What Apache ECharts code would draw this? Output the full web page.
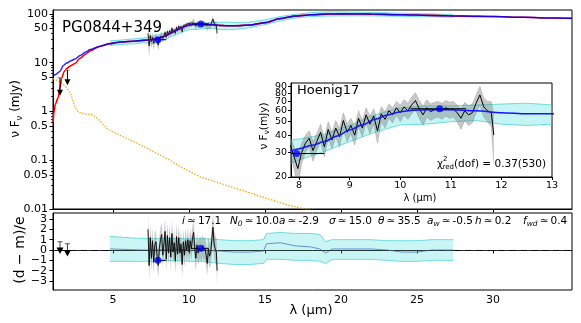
<!DOCTYPE html>
<html><head><meta charset="utf-8">
<script src="https://cdn.jsdelivr.net/npm/echarts@6/dist/echarts.min.js"></script>
<style>html,body{margin:0;padding:0;background:#fff}#c{width:581px;height:323px}</style>
</head><body><div id="c"></div>
<script>
// ---------------- DATA ----------------
const xTicks = [5, 10, 15, 20, 25, 30];
const yMainLabels = [0.01, 0.05, 0.1, 0.5, 1, 5, 10, 50, 100];
const yMainMinor = [0.02,0.03,0.04,0.06,0.07,0.08,0.09,0.2,0.3,0.4,0.6,0.7,0.8,0.9,2,3,4,6,7,8,9,20,30,40,60,70,80,90];
const yResTicks = [-3, -2, -1, 0, 1, 2, 3];
const yResLabelsA = [-3, -1, 1, 3];
const yResLabelsB = [-2, 0, 2];
const insetXTicks = [8, 9, 10, 11, 12, 13];
const insetYTicks = [20, 30, 40, 50, 60, 70, 80, 90];
const insetYLabelsA = [20, 40, 60, 80];
const insetYLabelsB = [30, 50, 70, 90];

// total model (blue)
const lamModel = [1.05,1.25,1.5,1.73,1.95,2.2,2.5,2.83,3.2,3.5,4.1,4.8,5.5,6.5,7.5,7.84,8.0,8.25,8.5,8.75,9.0,9.25,9.5,9.75,10.0,10.25,10.5,11.0,11.5,12.0,12.5,13.0,14.0,15.0,16.0,17.0,18.0,19.0,20.0,22.0,24.0,26.0,28.0,30.0,32.0,34.0,35.2];
const blueVal  = [5.3,5.8,6.6,8.7,9.8,10.8,11.9,14.0,16.5,18.5,21.5,24.5,26.5,27.8,29.5,31.0,32.0,33.8,36.0,39.5,43.5,47.5,52.0,56.0,59.0,60.5,61.0,61.0,60.0,58.0,57.0,57.0,59.0,66.0,80.0,90.0,96.0,99.0,100.0,99.0,96.0,93.0,90.0,88.0,85.0,82.0,81.0];
// red component (start, then follows the total model)
const redLam = [1.05,1.12,1.2,1.4,1.5,1.62,1.78,1.95,2.2,2.5,2.83,3.2,3.5,4.1];
const redVal = [0.6,1.0,1.4,1.95,3.0,4.8,6.5,7.6,8.6,9.6,12.3,15.0,17.4,21.5];
// orange dotted component
const orLam = [1.05,1.2,1.5,1.8,2.0,2.2,2.4,2.6,2.9,3.3,3.7,4.1,4.6,5.0,5.5,6.5,7.5,8.5,9.5,10.7,12.0,13.5,15.0,16.5,18.0];
const orVal = [4.7,4.5,4.1,3.4,2.9,2.4,1.5,1.05,0.92,0.88,0.85,0.66,0.45,0.38,0.32,0.23,0.16,0.11,0.072,0.046,0.034,0.024,0.017,0.012,0.0095];
// model uncertainty band (cyan)
const bandLam = [4.8,5.5,6.0,6.5,7.0,7.5,7.84,8.0,8.5,9.0,9.5,10.0,10.5,11.0,11.5,12.0,12.5,13.0,14.0,15.0,16.0,17.0,18.0,19.0,20.0,22.0,24.0,26.0,27.4];
const bandLo  = [22.5,23.5,24.0,24.5,25.5,25.0,25.0,26.5,30.5,36.0,42.0,47.5,48.0,50.0,51.0,48.0,47.0,48.0,52.0,60.0,72.0,82.0,88.0,90.0,91.0,91.0,89.0,87.0,85.0];
const bandHi  = [28.0,29.0,30.0,31.0,32.0,34.0,37.0,37.5,40.5,47.0,56.0,63.0,65.0,65.0,66.0,67.0,68.0,66.0,68.0,76.0,88.0,98.0,106.0,110.0,110.0,107.0,103.0,100.0,96.0];
// spectrum
const lamSpec = [7.300,7.375,7.450,7.525,7.600,7.675,7.750,7.825,7.900,7.975,
 8.050,8.125,8.200,8.275,8.350,8.425,8.500,8.575,8.650,8.725,
 8.800,8.875,8.950,9.025,9.100,9.175,9.250,9.325,9.400,9.475,
 9.550,9.625,9.700,9.775,9.850,9.925,10.000,10.075,10.150,10.225,
 10.300,10.375,10.450,10.525,10.600,10.675,10.750,10.825,10.900,10.975,
 11.050,11.125,11.200,11.275,11.350,11.425,11.500,11.575,11.650,11.725,
 11.800,11.850];
const specVal = [40,22,36,27,33,25,31,34,28,23,
 30,35,38,31,36,42,33,44,37,45,
 39,51,42,47,40,53,45,56,48,55,
 43,57,52,60,56,63,58,64,60,66,
 71,62,56,63,59,61,62,60,63,61,
 62,58,53,60,56,58,68,78,64,60,
 58,40];
const specErr = [12,9,9,7,8,7,6,5,5,6,
 5,5,5,5,5,6,5,6,5,6,
 6,7,6,6,6,7,6,7,7,7,
 8,7,7,7,7,7,8,8,8,9,
 10,9,9,9,8,8,8,8,8,8,
 8,8,9,9,9,9,10,12,10,10,
 12,15];
// residuals
const resVal = [2.0,-1.5,1.2,-0.8,0.9,-1.2,0.5,0.8,-0.6,-1.5,
 0.2,1.0,1.5,-0.5,0.6,1.8,-0.9,1.4,-0.3,1.2,
 -0.7,1.6,-0.2,0.7,-1.1,1.3,-0.4,1.2,-0.3,0.6,
 -1.4,0.8,-0.5,0.9,-0.1,1.0,-0.2,0.9,0.1,1.1,
 1.7,0.2,-0.8,0.5,-0.3,0.1,0.2,-0.1,0.4,0.0,
 0.2,-0.5,-1.3,0.1,-0.6,-0.3,1.0,2.2,0.6,0.1,
 -0.2,-2.0];
const resErr = [1.6,1.4,1.3,1.3,1.2,1.2,1.2,1.1,1.1,1.2,
 1.1,1.2,1.2,1.1,1.2,1.3,1.1,1.3,1.1,1.3,
 1.2,1.3,1.2,1.2,1.2,1.3,1.2,1.3,1.2,1.3,
 1.3,1.2,1.2,1.2,1.1,1.2,1.1,1.2,1.1,1.2,
 1.3,1.2,1.2,1.2,1.1,1.1,1.1,1.1,1.1,1.1,
 1.1,1.1,1.2,1.2,1.2,1.2,1.3,1.5,1.3,1.3,
 1.4,1.6];
const resBandLam = [4.8,6,7,8,9,10,11,12,13,14,14.9,15.1,16,17,18,18.6,19,19.4,20,21,22,23,24,25,26,27.4];
const resMid = [0.1,0.05,0.0,0.0,0.1,0.0,0.0,-0.1,-0.2,-0.2,-0.1,0.6,0.7,0.4,0.3,0.1,-0.3,0.1,0.1,0.1,0.1,0.0,-0.2,-0.2,0.0,0.0];
const resLo = [-1.1,-1.1,-1.1,-1.1,-1.0,-1.1,-1.1,-1.3,-1.4,-1.4,-1.3,-0.9,-0.9,-1.0,-1.0,-1.1,-1.3,-0.9,-0.9,-0.9,-0.9,-1.0,-1.1,-1.1,-1.0,-1.0];
const resHi = [1.3,1.2,1.1,1.1,1.1,1.1,1.1,1.0,0.9,0.9,1.0,1.6,1.7,1.6,1.6,1.5,0.8,1.0,1.0,1.0,1.0,0.9,0.9,0.9,1.0,1.0];
// photometry
const dotLam = [7.95, 10.78];
const dotVal = [29.5, 62];
const dotRes = [-1.0, 0.16];
const barLo = [7.8, 10.2];
const barHi = [8.5, 11.3];
const ulLam = [1.51, 2.0];
const ulTop = [4.9, 7.0];
const ulBot = [2.2, 3.6];
const ulRes = [-0.05, -0.3];
const ulResTop = [0.8, 0.6];

// ---------------- CHART ----------------
const FONT = 'DejaVu Sans';
const chart = echarts.init(document.getElementById('c'), null, {renderer: 'canvas'});

function bandSeries(xi, yi, lam, lo, hi, fill, stroke, lw, z) {
  return {
    type: 'custom', xAxisIndex: xi, yAxisIndex: yi, z: z, silent: true, clip: true,
    data: lam.map((x, i) => [x, lo[i], hi[i]]),
    encode: {x: 0, y: [1, 2]},
    renderItem: function (params, api) {
      if (params.dataIndex !== 0) return null;
      const up = lam.map((x, i) => api.coord([x, hi[i]]));
      const dn = lam.map((x, i) => api.coord([x, lo[i]]));
      const cs = params.coordSys;
      const ch = [{type: 'polygon', shape: {points: up.concat(dn.slice().reverse())}, style: {fill: fill, stroke: null}}];
      if (stroke) {
        ch.push({type: 'polyline', shape: {points: up}, style: {stroke: stroke, lineWidth: lw, fill: null}});
        ch.push({type: 'polyline', shape: {points: dn}, style: {stroke: stroke, lineWidth: lw, fill: null}});
      }
      return {type: 'group', children: ch,
        clipPath: {type: 'rect', shape: {x: cs.x, y: cs.y, width: cs.width, height: cs.height}}};
    }
  };
}
function lineSeries(xi, yi, lam, val, color, width, z, extra) {
  return Object.assign({
    type: 'line', xAxisIndex: xi, yAxisIndex: yi, z: z, silent: true,
    showSymbol: false, symbol: 'none', clip: true,
    data: lam.map((x, i) => [x, val[i]]),
    lineStyle: {color: color, width: width}
  }, extra || {});
}
function hbarSeries(xi, yi, vals, z) {
  return {
    type: 'custom', xAxisIndex: xi, yAxisIndex: yi, z: z, silent: true, clip: true,
    data: dotLam.map((x, i) => [barLo[i], barHi[i], vals[i]]),
    renderItem: function (params, api) {
      const a = api.coord([api.value(0), api.value(2)]);
      const b = api.coord([api.value(1), api.value(2)]);
      return {type: 'line', shape: {x1: a[0], y1: a[1], x2: b[0], y2: b[1]}, style: {stroke: '#000', lineWidth: 1}};
    }
  };
}
function dotSeries(xi, yi, vals, z) {
  return {type: 'scatter', xAxisIndex: xi, yAxisIndex: yi, z: z, silent: true, symbolSize: 7,
    itemStyle: {color: '#0000ff'}, data: dotLam.map((x, i) => [x, vals[i]])};
}

const redData = redLam.map((x, i) => [x, redVal[i]])
  .concat(lamModel.map((x, i) => [x, blueVal[i]]).filter(p => p[0] > 4.1));

const axisLineStyle = {color: '#000', width: 1};
const labelFont = {fontFamily: FONT, fontSize: 11, color: '#000'};
const T = '\u2009';
const noLine = {show: false};
const resFmt = v => String(Math.round(v)).replace('-', '\u2212');
const insetFmt = v => String(Math.round(v));

const option = {
  animation: false,
  backgroundColor: '#fff',
  grid: [
    {left: 53, top: 10, width: 519, height: 199, show: true, borderColor: '#000', borderWidth: 1, backgroundColor: 'transparent'},
    {left: 53, top: 213, width: 519, height: 77, show: true, borderColor: '#000', borderWidth: 1, backgroundColor: 'transparent'},
    {left: 291, top: 83, width: 261, height: 94, show: true, borderColor: '#000', borderWidth: 1, backgroundColor: '#fff', z: 5}
  ],
  xAxis: [
    {gridIndex: 0, type: 'value', min: 1.05, max: 35.2, axisLine: {show: true, lineStyle: axisLineStyle},
      axisTick: {show: true, length: 3.5, customValues: xTicks, lineStyle: {color: '#000'}},
      axisLabel: {show: false, customValues: xTicks}, splitLine: {show: false}},
    {gridIndex: 1, type: 'value', min: 1.05, max: 35.2, axisLine: {show: true, lineStyle: axisLineStyle},
      axisTick: {show: true, length: 3.5, customValues: xTicks, lineStyle: {color: '#000'}},
      axisLabel: Object.assign({show: true, customValues: xTicks, margin: 5, showMinLabel: true, showMaxLabel: true}, labelFont), splitLine: {show: false}},
    {gridIndex: 2, type: 'value', min: 7.84, max: 13, z: 6, axisLine: {show: true, lineStyle: axisLineStyle},
      axisTick: {show: true, length: 3, customValues: insetXTicks, lineStyle: {color: '#000'}},
      axisLabel: {show: true, customValues: insetXTicks, margin: 4, fontFamily: FONT, fontSize: 9.5, color: '#000', showMinLabel: true, showMaxLabel: true},
      splitLine: {show: false}}
  ],
  yAxis: [
    // 0 main log (major ticks + labels)
    {gridIndex: 0, type: 'log', logBase: 10, min: 0.01, max: 120, axisLine: {show: true, lineStyle: axisLineStyle},
      axisTick: {show: true, length: 3.5, customValues: yMainLabels, lineStyle: {color: '#000'}},
      axisLabel: Object.assign({show: true, customValues: yMainLabels, margin: 5, showMinLabel: true, showMaxLabel: true,
        formatter: v => String(+(+v).toPrecision(2))}, labelFont),
      splitLine: {show: false}},
    // 1 main minor ticks
    {gridIndex: 0, type: 'log', logBase: 10, min: 0.01, max: 120, position: 'left', axisLine: noLine,
      axisTick: {show: true, length: 2, customValues: yMainMinor, lineStyle: {color: '#000', width: 0.8}},
      axisLabel: {show: false, customValues: yMainMinor}, splitLine: {show: false}},
    // 2 residual
    {gridIndex: 1, type: 'value', min: -3.87, max: 3.58, axisLine: {show: true, lineStyle: axisLineStyle},
      axisTick: {show: true, length: 3.5, customValues: yResTicks, lineStyle: {color: '#000'}},
      axisLabel: Object.assign({show: true, customValues: yResLabelsA, margin: 6, showMinLabel: true, showMaxLabel: true,
        formatter: resFmt}, labelFont),
      splitLine: {show: false}},
    // 3 inset
    {gridIndex: 2, type: 'log', logBase: 10, min: 20, max: 95, z: 6, axisLine: {show: true, lineStyle: axisLineStyle},
      axisTick: {show: true, length: 3, customValues: insetYTicks, lineStyle: {color: '#000'}},
      axisLabel: {show: true, customValues: insetYLabelsA, margin: 4, fontFamily: FONT, fontSize: 9.5, color: '#000',
        showMinLabel: true, showMaxLabel: true, formatter: insetFmt},
      splitLine: {show: false}},
    // 4 residual second label set
    {gridIndex: 1, type: 'value', min: -3.87, max: 3.58, position: 'left', axisLine: noLine, axisTick: {show: false},
      axisLabel: Object.assign({show: true, customValues: yResLabelsB, margin: 6, showMinLabel: true, showMaxLabel: true,
        formatter: resFmt}, labelFont),
      splitLine: {show: false}},
    // 5 inset second label set
    {gridIndex: 2, type: 'log', logBase: 10, min: 20, max: 95, z: 6, position: 'left', axisLine: noLine, axisTick: {show: false},
      axisLabel: {show: true, customValues: insetYLabelsB, margin: 4, fontFamily: FONT, fontSize: 9.5, color: '#000',
        showMinLabel: true, showMaxLabel: true, formatter: insetFmt},
      splitLine: {show: false}}
  ],
  series: [
    // ---- main panel ----
    bandSeries(0, 0, bandLam, bandLo, bandHi, 'rgba(64,220,220,0.28)', 'rgba(40,205,205,0.8)', 0.8, 1),
    bandSeries(0, 0, lamSpec, specVal.map((v, i) => v - specErr[i]), specVal.map((v, i) => v + specErr[i]), 'rgba(120,120,120,0.45)', null, 0, 2),
    lineSeries(0, 0, lamSpec, specVal, '#000', 0.8, 3),
    lineSeries(0, 0, orLam, orVal, '#ffa500', 1.2, 3, {lineStyle: {color: '#ffa500', width: 1.2, type: [1.5, 1.5]}}),
    {type: 'line', xAxisIndex: 0, yAxisIndex: 0, z: 4, silent: true, showSymbol: false, symbol: 'none',
      data: redData, smooth: 0.25, smoothMonotone: 'x', lineStyle: {color: '#ff0000', width: 1.6}},
    lineSeries(0, 0, lamModel, blueVal, '#0000ff', 1.5, 5, {smooth: 0.25, smoothMonotone: 'x', lineStyle: {color: '#0000ff', width: 1.5, opacity: 0.85}}),
    {type: 'custom', xAxisIndex: 0, yAxisIndex: 0, z: 6, silent: true,
      data: ulLam.map((x, i) => [x, ulTop[i], ulBot[i]]),
      renderItem: function (params, api) {
        const t = api.coord([api.value(0), api.value(1)]);
        const b = api.coord([api.value(0), api.value(2)]);
        return {type: 'group', children: [
          {type: 'line', shape: {x1: t[0] - 2.5, y1: t[1], x2: t[0] + 2.5, y2: t[1]}, style: {stroke: '#888', lineWidth: 1}},
          {type: 'line', shape: {x1: t[0], y1: t[1], x2: b[0], y2: b[1] - 4}, style: {stroke: '#000', lineWidth: 1}},
          {type: 'polygon', shape: {points: [[b[0] - 3, b[1] - 5], [b[0] + 3, b[1] - 5], [b[0], b[1] + 1]]}, style: {fill: '#000'}}
        ]};
      }},
    hbarSeries(0, 0, dotVal, 6),
    dotSeries(0, 0, dotVal, 7),

    // ---- residual panel ----
    bandSeries(1, 2, resBandLam, resLo, resHi, 'rgba(64,220,220,0.28)', 'rgba(40,205,205,0.8)', 0.8, 1),
    lineSeries(1, 2, resBandLam, resMid, '#4a78c8', 0.8, 2, {
      markLine: {silent: true, symbol: ['none', 'none'], label: {show: false},
        lineStyle: {color: '#333', width: 0.8, type: [6, 2, 1, 2]}, data: [{yAxis: 0}]}}),
    bandSeries(1, 2, lamSpec, resVal.map((v, i) => v - resErr[i]), resVal.map((v, i) => v + resErr[i]), 'rgba(120,120,120,0.4)', null, 0, 3),
    lineSeries(1, 2, lamSpec, resVal, '#000', 0.9, 4),
    {type: 'custom', xAxisIndex: 1, yAxisIndex: 2, z: 6, silent: true,
      data: ulLam.map((x, i) => [x, ulRes[i], ulResTop[i]]),
      renderItem: function (params, api) {
        const p = api.coord([api.value(0), api.value(1)]);
        const t = api.coord([api.value(0), api.value(2)]);
        return {type: 'group', children: [
          {type: 'line', shape: {x1: t[0] - 2.5, y1: t[1], x2: t[0] + 2.5, y2: t[1]}, style: {stroke: '#555', lineWidth: 1}},
          {type: 'line', shape: {x1: t[0], y1: t[1], x2: p[0], y2: p[1]}, style: {stroke: '#444', lineWidth: 1}},
          {type: 'polygon', shape: {points: [[p[0] - 3.5, p[1] - 3], [p[0] + 3.5, p[1] - 3], [p[0], p[1] + 3.5]]}, style: {fill: '#000'}}
        ]};
      }},
    hbarSeries(1, 2, dotRes, 6),
    dotSeries(1, 2, dotRes, 7),

    // ---- inset ----
    bandSeries(2, 3, bandLam, bandLo, bandHi, 'rgba(64,220,220,0.3)', 'rgba(40,205,205,0.8)', 0.8, 11),
    bandSeries(2, 3, lamSpec, specVal.map((v, i) => v - specErr[i]), specVal.map((v, i) => v + specErr[i]), 'rgba(120,120,120,0.4)', 'rgba(100,100,100,0.5)', 0.5, 12),
    lineSeries(2, 3, lamSpec, specVal, '#000', 1, 13),
    lineSeries(2, 3, lamModel, blueVal, '#0000ff', 1.5, 14, {smooth: 0.3, smoothMonotone: 'x', lineStyle: {color: '#1515ff', width: 1.5}}),
    hbarSeries(2, 3, dotVal, 15),
    dotSeries(2, 3, dotVal, 16)
  ],
  graphic: [
    {type: 'text', x: 62, y: 28, z: 50, style: {text: 'PG0844+349', fontFamily: FONT, fontSize: 15, fill: '#000', align: 'left', verticalAlign: 'middle'}},
    {type: 'text', x: 16, y: 109, rotation: Math.PI / 2, z: 50, style: {
      text: 'ν F{s|ν} (mJy)', fontFamily: FONT, fontSize: 12, fill: '#000', align: 'center', verticalAlign: 'middle',
      lineHeight: 16, rich: {s: {fontFamily: FONT, fontSize: 8.5, verticalAlign: 'bottom', lineHeight: 9}}}},
    {type: 'text', x: 20, y: 250, rotation: Math.PI / 2, z: 50, style: {
      text: '(d \u2212 m)/e', fontFamily: FONT, fontSize: 14, fill: '#000', align: 'center', verticalAlign: 'middle'}},
    {type: 'text', x: 311, y: 311, z: 50, style: {text: 'λ (µm)', fontFamily: FONT, fontSize: 13, fill: '#000', align: 'center', verticalAlign: 'middle'}},
    // inset texts
    {type: 'text', x: 297, y: 91, z: 50, style: {text: 'Hoenig17', fontFamily: FONT, fontSize: 13, fill: '#000', align: 'left', verticalAlign: 'middle'}},
    {type: 'text', x: 264, y: 126, rotation: Math.PI / 2, z: 50, style: {
      text: 'ν F{s|ν}(mJy)', fontFamily: FONT, fontSize: 10.5, fill: '#000', align: 'center', verticalAlign: 'middle',
      lineHeight: 14, rich: {s: {fontFamily: FONT, fontSize: 7.5, verticalAlign: 'bottom', lineHeight: 8}}}},
    {type: 'text', x: 420, y: 198, z: 50, style: {text: 'λ (µm)', fontFamily: FONT, fontSize: 10, fill: '#000', align: 'center', verticalAlign: 'middle'}},
    {type: 'text', x: 437, y: 164, z: 50, style: {text: 'χ', fontFamily: FONT, fontSize: 10.5, fill: '#000', align: 'left', verticalAlign: 'middle'}},
    {type: 'text', x: 443, y: 159.5, z: 50, style: {text: '2', fontFamily: FONT, fontSize: 7, fill: '#000', align: 'left', verticalAlign: 'middle'}},
    {type: 'text', x: 442.5, y: 167.5, z: 50, style: {text: 'red', fontFamily: FONT, fontSize: 7, fill: '#000', align: 'left', verticalAlign: 'middle'}},
    {type: 'text', x: 454, y: 164, z: 50, style: {text: '(dof) = 0.37(530)', fontFamily: FONT, fontSize: 10.5, fill: '#000', align: 'left', verticalAlign: 'middle'}},
    // parameter texts
    ...[
      [182, '{i|i}' + T + '≃' + T + '17.1'],
      [230, '{i|N}{s|0}' + T + '≃' + T + '10.0{i|a}' + T + '≃' + T + '-2.9'],
      [329, '{i|σ}' + T + '≃' + T + '15.0'],
      [378, '{i|θ}' + T + '≃' + T + '35.5'],
      [427, '{i|a}{s|w}' + T + '≃' + T + '-0.5'],
      [475, '{i|h}' + T + '≃' + T + '0.2'],
      [523, '{i|f}{s|wd}' + T + '≃' + T + '0.4']
    ].map(p => ({type: 'text', x: p[0], y: 221, z: 50, style: {
      text: p[1], fontFamily: FONT, fontSize: 10.5, fill: '#000', align: 'left', verticalAlign: 'middle', lineHeight: 15,
      rich: {i: {fontFamily: FONT, fontSize: 10.5, fontStyle: 'italic', lineHeight: 15},
             s: {fontFamily: FONT, fontSize: 7.5, fontStyle: 'italic', verticalAlign: 'bottom', lineHeight: 9}}}}))
  ]
};
chart.setOption(option);
</script></body></html>
